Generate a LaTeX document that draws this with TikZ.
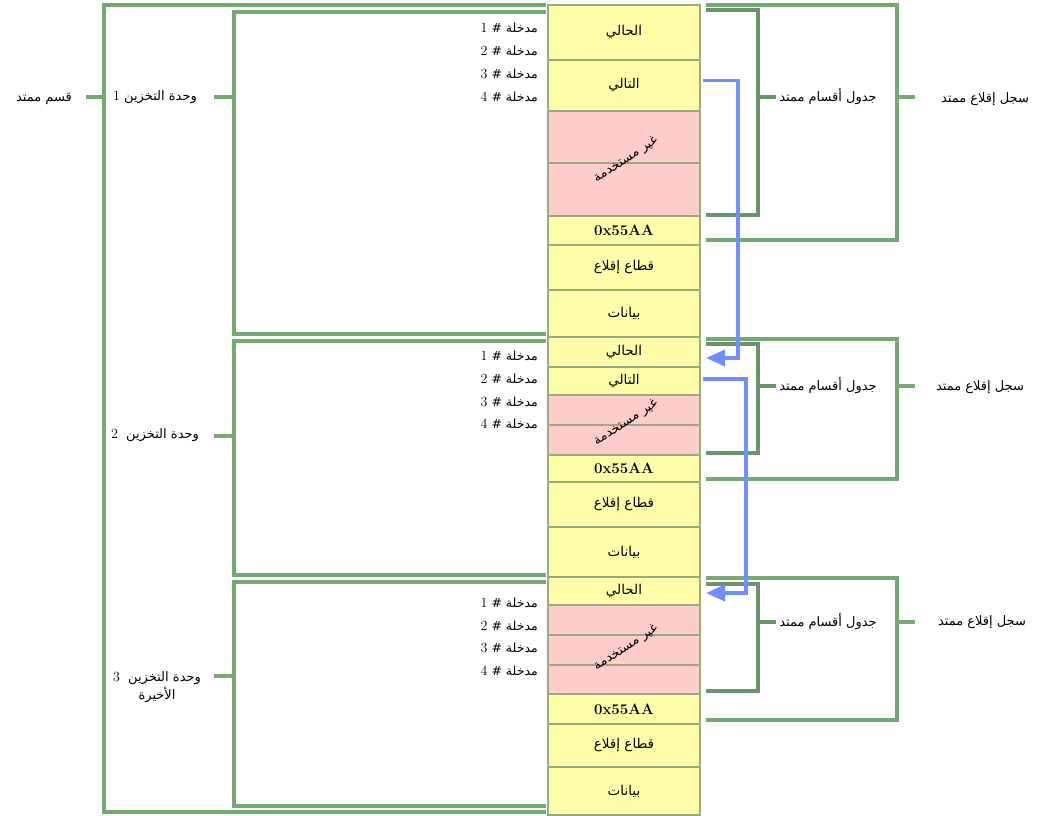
\documentclass[tikz,border=0pt]{standalone}
\usepackage{fontspec}
\newfontfamily\ar[Script=Arabic]{DejaVu Sans}
\newfontfamily\lmr{Latin Modern Roman}
\TeXXeTstate=1
\usetikzlibrary{arrows.meta}
\definecolor{grn}{RGB}{114,170,114}
\definecolor{dgrn}{RGB}{106,148,106}
\definecolor{cellY}{RGB}{255,255,170}
\definecolor{cellP}{RGB}{255,204,204}
\definecolor{cellB}{RGB}{150,172,128}
\definecolor{blu}{RGB}{112,142,255}
\tikzset{
  cell/.style={draw=cellB, line width=1.4pt, anchor=north west, minimum width=152pt, inner sep=0pt, outer sep=0pt, font=\ar\fontsize{13.5}{15}\selectfont},
  yel/.style={cell, fill=cellY},
  pnk/.style={draw=cellB, line width=1.4pt, fill=cellP},
  hex/.style={yel, font=\lmr\bfseries\fontsize{15}{18}\selectfont},
  brk/.style={grn, line width=3.3pt},
  brkd/.style={dgrn, line width=3.3pt},
  lbl/.style={font=\ar\fontsize{13}{15}\selectfont, inner sep=1pt},
  ent/.style={font=\ar\fontsize{12.5}{14}\selectfont, anchor=east, inner sep=1pt},
  ptr/.style={blu, line width=3.5pt, -{Triangle[length=19pt,width=16pt]}},
}
\newcommand\AR[1]{\beginR #1\endR}
\newcommand\N[1]{{\lmr\fontsize{14}{14}\selectfont #1}}
\begin{document}
\begin{tikzpicture}[x=1pt,y=-1pt]
\useasboundingbox (0,0) rectangle (1039,815);
% ---- column unit 1
\node[yel, minimum height=55pt] (c1a) at (548,5) {\AR{الحالي}};
\node[yel, minimum height=51pt] (c1b) at (548,60) {\AR{التالي}};
\draw[pnk] (548,111) rectangle (700,163);
\draw[pnk] (548,163) rectangle (700,216);
\node[hex, minimum height=29pt] (c1e) at (548,216) {0x55AA};
\node[yel, minimum height=45pt] (c1f) at (548,245) {\AR{قطاع إقلاع}};
\node[yel, minimum height=47pt] (c1g) at (548,290) {\AR{بيانات}};
% ---- column unit 2
\node[yel, minimum height=30pt] (c2a) at (548,337) {\AR{الحالي}};
\node[yel, minimum height=28pt] (c2b) at (548,367) {\AR{التالي}};
\draw[pnk] (548,395) rectangle (700,425);
\draw[pnk] (548,425) rectangle (700,455);
\node[hex, minimum height=27pt] (c2e) at (548,455) {0x55AA};
\node[yel, minimum height=45pt] (c2f) at (548,482) {\AR{قطاع إقلاع}};
\node[yel, minimum height=50pt] (c2g) at (548,527) {\AR{بيانات}};
% ---- column unit 3
\node[yel, minimum height=28pt] (c3a) at (548,577) {\AR{الحالي}};
\draw[pnk] (548,605) rectangle (700,635);
\draw[pnk] (548,635) rectangle (700,665);
\draw[pnk] (548,665) rectangle (700,694);
\node[hex, minimum height=30pt] (c3e) at (548,694) {0x55AA};
\node[yel, minimum height=43pt] (c3f) at (548,724) {\AR{قطاع إقلاع}};
\node[yel, minimum height=48pt] (c3g) at (548,767) {\AR{بيانات}};
% ---- unused labels
\node[lbl, rotate=33] (u1) at (626,160) {\AR{غير مستخدمة}};
\node[lbl, rotate=33] (u2) at (626,423) {\AR{غير مستخدمة}};
\node[lbl, rotate=33] (u3) at (626,648) {\AR{غير مستخدمة}};
% ---- entries
\foreach \u/\ya/\yb/\yc/\yd in {1/28/51/74/97, 2/356/379/402/424, 3/603/626/648/671}{
  \node[ent] (e\u a) at (539,\ya) {\AR{مدخلة \# \N{1}}};
  \node[ent] (e\u b) at (539,\yb) {\AR{مدخلة \# \N{2}}};
  \node[ent] (e\u c) at (539,\yc) {\AR{مدخلة \# \N{3}}};
  \node[ent] (e\u d) at (539,\yd) {\AR{مدخلة \# \N{4}}};
}
% ---- left brackets
\draw[brk] (546,5) -- (104,5) -- (104,812) -- (546,812);
\draw[brk] (104,97) -- (86,97);
\node[lbl] (lx) at (44,99) {\AR{قسم ممتد}};
\draw[brk] (546,12) -- (234,12) -- (234,334) -- (546,334);
\draw[brk] (234,97) -- (214,97);
\node[lbl] (l1) at (155,97) {\AR{وحدة التخزين \N{1}}};
\draw[brk] (546,341) -- (234,341) -- (234,575) -- (546,575);
\draw[brk] (234,436) -- (214,436);
\node[lbl] (l2) at (155,435) {\AR{وحدة التخزين~ \N{2}}};
\draw[brk] (546,582) -- (234,582) -- (234,806) -- (546,806);
\draw[brk] (234,676) -- (214,676);
\node[lbl, align=center] (l3) at (157,687) {\AR{وحدة التخزين~ \N{3}}\\[1pt]\AR{الأخيرة}};
% ---- right brackets unit 1
\draw[brk] (706,5) -- (897,5) -- (897,240) -- (706,240);
\draw[brk] (897,97) -- (915,97);
\draw[brkd] (706,10) -- (758,10) -- (758,215) -- (706,215);
\draw[brkd] (758,97) -- (776,97);
\node[lbl] (t1) at (828,97) {\AR{جدول أقسام ممتد}};
\node[lbl] (r1) at (985,99) {\AR{سجل إقلاع ممتد}};
% ---- right brackets unit 2
\draw[brk] (706,339) -- (897,339) -- (897,479) -- (706,479);
\draw[brk] (897,386) -- (915,386);
\draw[brkd] (706,344) -- (758,344) -- (758,453) -- (706,453);
\draw[brkd] (758,386) -- (776,386);
\node[lbl] (t2) at (828,386) {\AR{جدول أقسام ممتد}};
\node[lbl] (r2) at (980,387) {\AR{سجل إقلاع ممتد}};
% ---- right brackets unit 3
\draw[brk] (706,578) -- (897,578) -- (897,720) -- (706,720);
\draw[brk] (897,622) -- (915,622);
\draw[brkd] (706,584) -- (758,584) -- (758,691) -- (706,691);
\draw[brkd] (758,622) -- (776,622);
\node[lbl] (t3) at (828,622) {\AR{جدول أقسام ممتد}};
\node[lbl] (r3) at (982,622) {\AR{سجل إقلاع ممتد}};
% ---- pointers
\draw[ptr] ([xshift=3pt,yshift=5pt]c1b.east) -| (738,300) |- ([xshift=6pt,yshift=-6pt]c2a.east);
\draw[ptr] ([xshift=3pt,yshift=2pt]c2b.east) -| (746,500) |- ([xshift=6pt,yshift=-2pt]c3a.east);
\end{tikzpicture}
\end{document}
